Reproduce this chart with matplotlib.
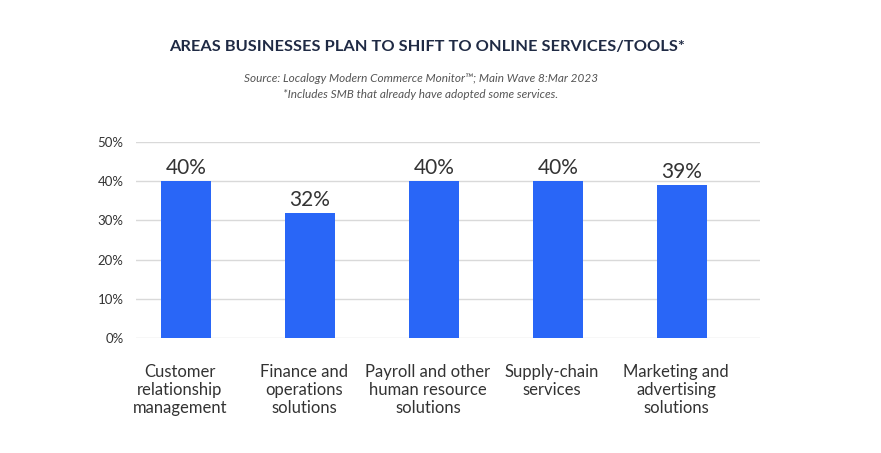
import matplotlib.pyplot as plt
import numpy as np
from matplotlib.transforms import ScaledTranslation

categories = [
    "Customer\nrelationship\nmanagement",
    "Finance and\noperations\nsolutions",
    "Payroll and other\nhuman resource\nsolutions",
    "Supply-chain\nservices",
    "Marketing and\nadvertising\nsolutions",
]
values = [40, 32, 40, 40, 39]
y_ticks = [0, 10, 20, 30, 40, 50]

title = "AREAS BUSINESSES PLAN TO SHIFT TO ONLINE SERVICES/TOOLS*"
source = ("Source: Localogy Modern Commerce Monitor\u2122; Main Wave 8:Mar 2023\n"
          "*Includes SMB that already have adopted some services.")

plt.rcParams["font.family"] = ["Lato", "DejaVu Sans"]

fig = plt.figure(figsize=(8.81, 4.53), dpi=100)
ax = fig.add_axes([136 / 881, 1 - 338 / 453, 624 / 881, 196 / 453])

x = np.arange(len(categories))
ax.bar(x, values, width=0.403, color="#2966f7", zorder=3)
for xi, v in zip(x, values):
    ax.text(xi, v + 0.7, "{}%".format(v), ha="center", va="bottom",
            fontsize=15, color="#333333")

ax.set_xlim(-0.403, 4.629)
ax.set_ylim(0, 50)
ax.set_yticks(y_ticks)
ax.set_yticklabels(["{}%".format(t) for t in y_ticks], fontsize=9.5, color="#333333")
ax.set_xticks(x)
ax.set_xticklabels(categories, fontsize=12, color="#333333", linespacing=1.15)
ax.tick_params(axis="both", length=0)
ax.tick_params(axis="x", pad=19)
ax.tick_params(axis="y", pad=9)
shift = ScaledTranslation(-6 / 100, 0, fig.dpi_scale_trans)
for lbl in ax.get_xticklabels():
    lbl.set_transform(lbl.get_transform() + shift)
ax.yaxis.grid(True, color="#d9d9d9", linewidth=1, zorder=0)
for s in ax.spines.values():
    s.set_visible(False)

fig.text(427 / 881, 1 - 47 / 453, title, ha="center", va="center",
         fontsize=11.8, fontweight="bold", color="#1f2a44")
fig.text(421 / 881, 1 - 86.5 / 453, source, ha="center", va="center",
         fontsize=8.5, style="italic", color="#555555", linespacing=1.55)

fig.savefig("out.png", dpi=100)
